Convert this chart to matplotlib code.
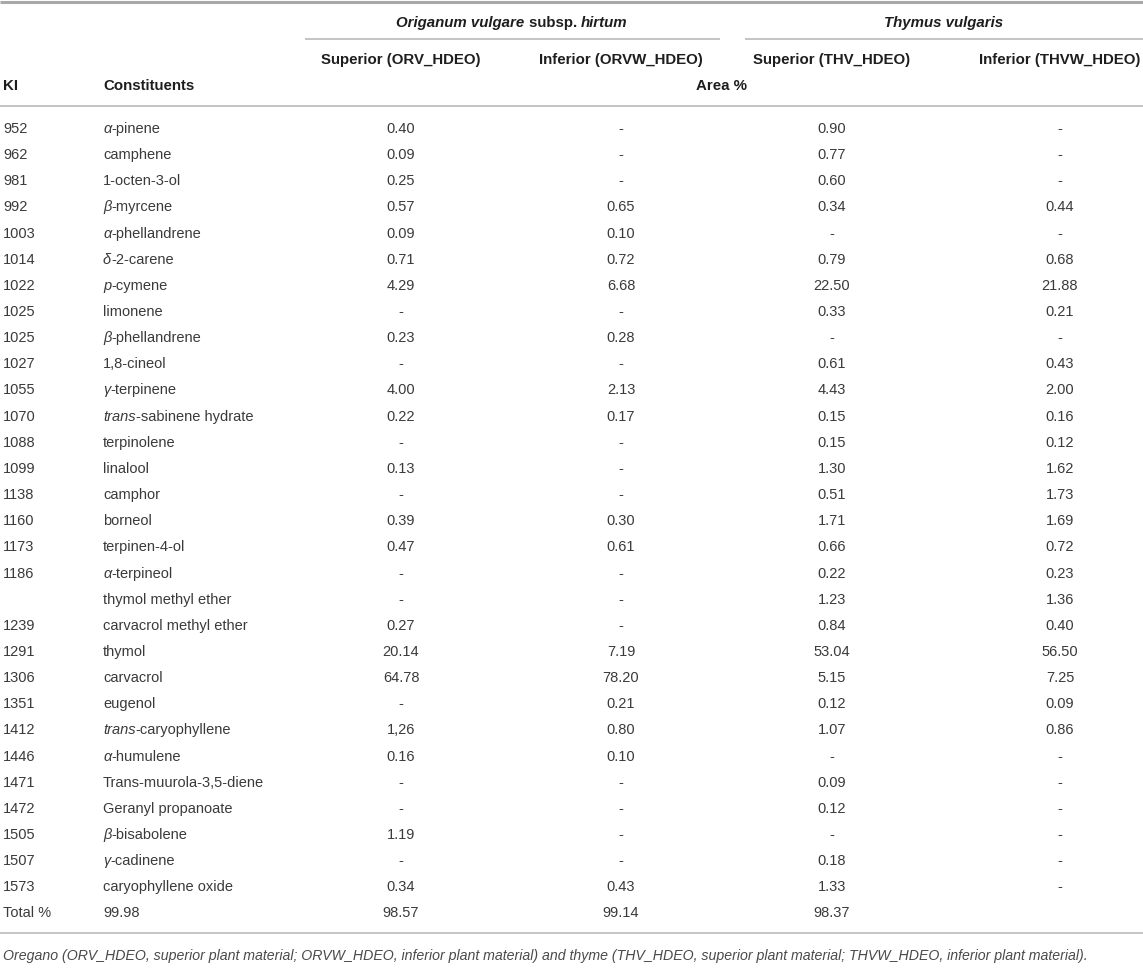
"""
Essential oil composition table (oregano and thyme), drawn as text on a
pixel-sized matplotlib canvas.
"""

import matplotlib
matplotlib.use("Agg")
import matplotlib.pyplot as plt
from matplotlib.font_manager import FontProperties

# ---- table content ----
ki = ["952", "962", "981", "992", "1003", "1014", "1022", "1025", "1025", "1027",
      "1055", "1070", "1088", "1099", "1138", "1160", "1173", "1186", "", "1239",
      "1291", "1306", "1351", "1412", "1446", "1471", "1472", "1505", "1507", "1573"]

# *...* marks the italic part of a name
constituents = ["*α*-pinene", "camphene", "1-octen-3-ol", "*β*-myrcene", "*α*-phellandrene",
                "*δ*-2-carene", "*p*-cymene", "limonene", "*β*-phellandrene", "1,8-cineol",
                "*γ*-terpinene", "*trans*-sabinene hydrate", "terpinolene", "linalool", "camphor",
                "borneol", "terpinen-4-ol", "*α*-terpineol", "thymol methyl ether",
                "carvacrol methyl ether", "thymol", "carvacrol", "eugenol",
                "*trans*-caryophyllene", "*α*-humulene", "Trans-muurola-3,5-diene",
                "Geranyl propanoate", "*β*-bisabolene", "*γ*-cadinene", "caryophyllene oxide"]

orv_sup = ["0.40", "0.09", "0.25", "0.57", "0.09", "0.71", "4.29", "-", "0.23", "-",
           "4.00", "0.22", "-", "0.13", "-", "0.39", "0.47", "-", "-", "0.27",
           "20.14", "64.78", "-", "1,26", "0.16", "-", "-", "1.19", "-", "0.34"]
orvw_inf = ["-", "-", "-", "0.65", "0.10", "0.72", "6.68", "-", "0.28", "-",
            "2.13", "0.17", "-", "-", "-", "0.30", "0.61", "-", "-", "-",
            "7.19", "78.20", "0.21", "0.80", "0.10", "-", "-", "-", "-", "0.43"]
thv_sup = ["0.90", "0.77", "0.60", "0.34", "-", "0.79", "22.50", "0.33", "-", "0.61",
           "4.43", "0.15", "0.15", "1.30", "0.51", "1.71", "0.66", "0.22", "1.23", "0.84",
           "53.04", "5.15", "0.12", "1.07", "-", "0.09", "0.12", "-", "0.18", "1.33"]
thvw_inf = ["-", "-", "-", "0.44", "-", "0.68", "21.88", "0.21", "-", "0.43",
            "2.00", "0.16", "0.12", "1.62", "1.73", "1.69", "0.72", "0.23", "1.36", "0.40",
            "56.50", "7.25", "0.09", "0.86", "-", "-", "-", "-", "-", "-"]

# the total row is shifted one column to the left in the source table
total_row = ["Total %", "99.98", "98.57", "99.14", "98.37"]

species = ["*Origanum vulgare* subsp. *hirtum*", "*Thymus vulgaris*"]
sub_headers = ["Superior (ORV_HDEO)", "Inferior (ORVW_HDEO)",
               "Superior (THV_HDEO)", "Inferior (THVW_HDEO)"]
footnote = ("Oregano (ORV_HDEO, superior plant material; ORVW_HDEO, inferior plant "
            "material) and thyme (THV_HDEO, superior plant material; THVW_HDEO, "
            "inferior plant material).")

# ---- layout (pixels) ----
W, H = 1143, 970
FONT = "Liberation Sans"
x_ki, x_name = 3, 103
col_x = [401, 621, 832, 1060]
row0, row_h = 129, 26.15
txt_col = "#3a3a3a"
head_col = "#1e1e1e"
line_col = "#b4b4b4"

fig = plt.figure(figsize=(W / 100, H / 100), dpi=100)
ax = fig.add_axes([0, 0, 1, 1])
ax.set_xlim(0, W)
ax.set_ylim(H, 0)
ax.axis("off")
renderer = fig.canvas.get_renderer()


def text_width(s, prop):
    w1 = renderer.get_text_width_height_descent("|" + s + "|", prop, ismath=False)[0]
    w0 = renderer.get_text_width_height_descent("||", prop, ismath=False)[0]
    return w1 - w0


def draw_rich(x, y, markup, size, weight="normal", color=txt_col, ha="left"):
    """Draw text where *...* parts are italic."""
    parts = [(seg, "italic" if i % 2 else "normal")
             for i, seg in enumerate(markup.split("*")) if seg]
    props = [FontProperties(family=FONT, size=size, weight=weight, style=st)
             for _, st in parts]
    widths = [text_width(s, p) for (s, _), p in zip(parts, props)]
    x0 = x - sum(widths) / 2 if ha == "center" else x
    for (s, _), p, w in zip(parts, props, widths):
        stripped = s.lstrip(" ")
        lead = text_width(" " * (len(s) - len(stripped)), p) if stripped != s else 0
        ax.text(x0 + lead, y, stripped, fontproperties=p, color=color,
                ha="left", va="center")
        x0 += w


# ---- rules ----
ax.plot([0, W], [3, 3], color="#a8a8a8", lw=2.2, solid_capstyle="butt")
ax.plot([305, 720], [39.5, 39.5], color=line_col, lw=1.1, solid_capstyle="butt")
ax.plot([745, W], [39.5, 39.5], color=line_col, lw=1.1, solid_capstyle="butt")
ax.plot([0, W], [107, 107], color=line_col, lw=1.1, solid_capstyle="butt")
ax.plot([0, W], [934, 934], color=line_col, lw=1.1, solid_capstyle="butt")

# ---- header ----
HS = 10.8
draw_rich(512, 23, species[0], HS, weight="bold", color=head_col, ha="center")
draw_rich(944, 23, species[1], HS, weight="bold", color=head_col, ha="center")
for cx, lab in zip(col_x, sub_headers):
    ax.text(cx, 60, lab, family=FONT, size=HS, weight="bold", color=head_col,
            ha="center", va="center")
ax.text(x_ki, 86, "KI", family=FONT, size=HS, weight="bold", color=head_col,
        ha="left", va="center")
ax.text(x_name, 86, "Constituents", family=FONT, size=HS, weight="bold",
        color=head_col, ha="left", va="center")
ax.text(722, 86, "Area %", family=FONT, size=HS, weight="bold", color=head_col,
        ha="center", va="center")

# ---- body ----
BS = 10.5
columns = [orv_sup, orvw_inf, thv_sup, thvw_inf]
for i in range(len(ki)):
    y = row0 + i * row_h
    ax.text(x_ki, y, ki[i], family=FONT, size=BS, color=txt_col, ha="left", va="center")
    draw_rich(x_name, y, constituents[i], BS)
    for cx, col in zip(col_x, columns):
        ax.text(cx, y, col[i], family=FONT, size=BS, color=txt_col,
                ha="center", va="center")

y = row0 + len(ki) * row_h
ax.text(x_ki, y, total_row[0], family=FONT, size=BS, color=txt_col, ha="left", va="center")
ax.text(x_name, y, total_row[1], family=FONT, size=BS, color=txt_col, ha="left", va="center")
for cx, val in zip(col_x, total_row[2:]):
    ax.text(cx, y, val, family=FONT, size=BS, color=txt_col, ha="center", va="center")

# ---- footnote ----
ax.text(x_ki, 956, footnote, family=FONT, size=10.2, style="italic", color="#4a4a4a",
        ha="left", va="center")

fig.savefig("out.png", dpi=100)
